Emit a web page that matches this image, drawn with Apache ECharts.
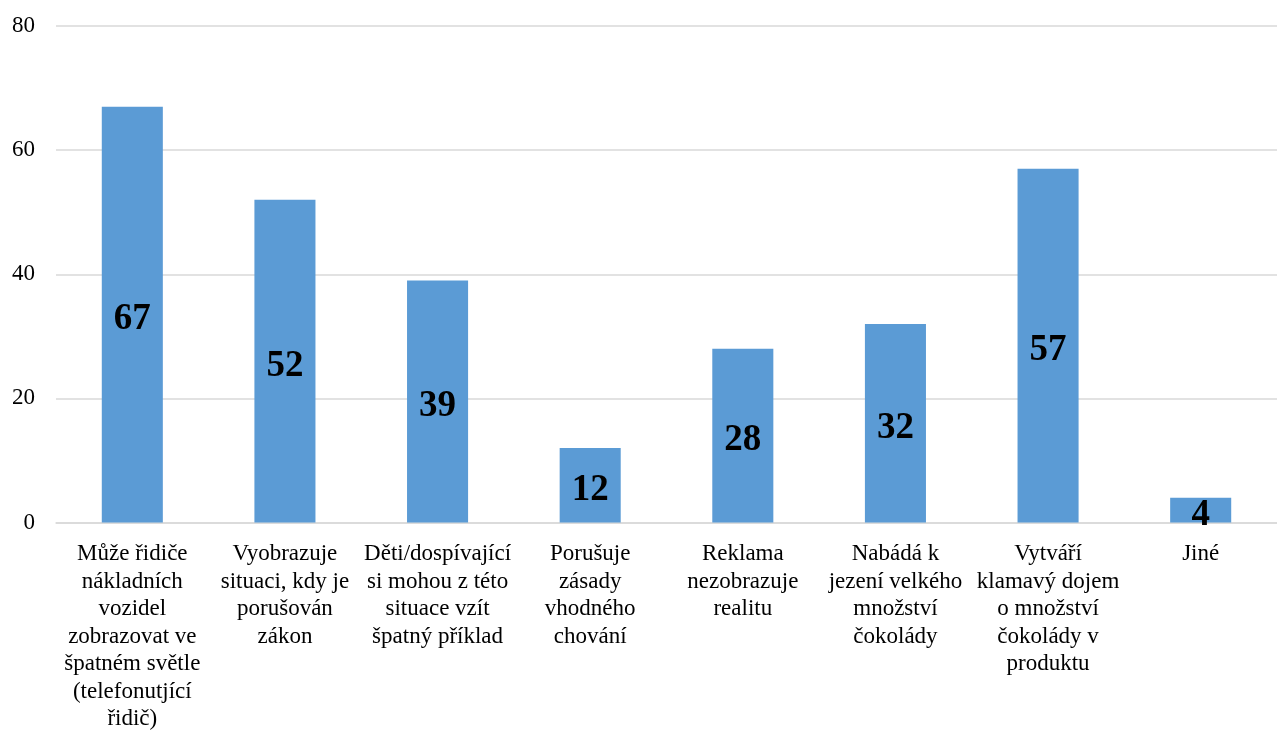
<!DOCTYPE html>
<html>
<head>
<meta charset="utf-8">
<script src="https://cdn.jsdelivr.net/npm/echarts@6/dist/echarts.min.js"></script>
<style>
  html, body { margin: 0; padding: 0; background: #fff; overflow: hidden; }
  #chart { width: 1277px; height: 733px; }
</style>
</head>
<body>
<div id="chart"></div>
<script>
// Reasons given for objecting to the advertisement (counts)
const categories = [
  'Může řidiče\nnákladních\nvozidel\nzobrazovat ve\nšpatném světle\n(telefonutjící\nřidič)',
  'Vyobrazuje\nsituaci, kdy je\nporušován\nzákon',
  'Děti/dospívající\nsi mohou z této\nsituace vzít\nšpatný příklad',
  'Porušuje\nzásady\nvhodného\nchování',
  'Reklama\nnezobrazuje\nrealitu',
  'Nabádá k\njezení velkého\nmnožství\nčokolády',
  'Vytváří\nklamavý dojem\no množství\nčokolády v\nproduktu',
  'Jiné'
];
const counts = [67, 52, 39, 12, 28, 32, 57, 4];
const yTicks = { min: 0, max: 80, interval: 20 };

const serif = "'Liberation Serif', 'Times New Roman', serif";
const chart = echarts.init(document.getElementById('chart'), null, { renderer: 'canvas', width: 1277, height: 733 });

chart.setOption({
  animation: false,
  backgroundColor: '#ffffff',
  grid: { left: 56, top: 26, width: 1228, height: 505, containLabel: false },
  xAxis: {
    type: 'category',
    data: categories,
    axisLine: { show: true, lineStyle: { color: '#d9d9d9', width: 1.5 } },
    axisTick: { show: false },
    axisLabel: {
      interval: 0,
      margin: 18,
      fontFamily: serif,
      fontSize: 23,
      lineHeight: 27.5,
      color: '#000000',
      align: 'center'
    }
  },
  yAxis: {
    type: 'value',
    min: yTicks.min,
    max: yTicks.max,
    interval: yTicks.interval,
    axisLine: { show: false },
    axisTick: { show: false },
    splitLine: { lineStyle: { color: '#d9d9d9', width: 1.5 } },
    axisLabel: {
      margin: 21,
      fontFamily: serif,
      fontSize: 23,
      color: '#000000'
    }
  },
  series: [{
    type: 'bar',
    data: counts,
    barWidth: '40%',
    itemStyle: { color: '#5b9bd5' },
    label: {
      show: true,
      position: 'inside',
      offset: [0, 5],
      fontFamily: serif,
      fontSize: 37,
      fontWeight: 'bold',
      color: '#000000'
    }
  }]
});
</script>
</body>
</html>
